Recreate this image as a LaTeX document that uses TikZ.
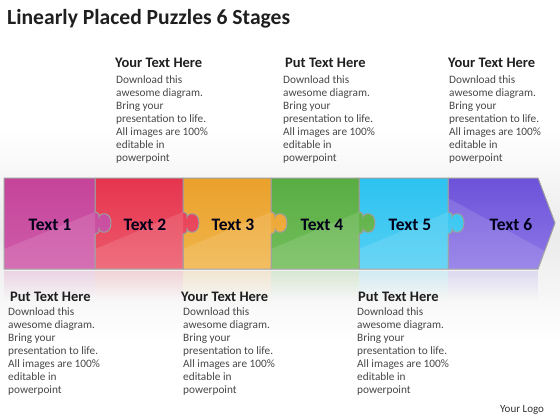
\documentclass[tikz,border=0pt]{standalone}
\usepackage{fontspec}
\setmainfont{Carlito}
\usetikzlibrary{fadings}
\definecolor{pzlAt}{HTML}{C4449A}
\definecolor{pzlAb}{HTML}{D05CAA}
\definecolor{pzlBt}{HTML}{E6344E}
\definecolor{pzlBb}{HTML}{EC5A6C}
\definecolor{pzlCt}{HTML}{EAA12C}
\definecolor{pzlCb}{HTML}{F1B54A}
\definecolor{pzlDt}{HTML}{58AD42}
\definecolor{pzlDb}{HTML}{74BE5C}
\definecolor{pzlEt}{HTML}{2CC2F0}
\definecolor{pzlEb}{HTML}{55D0F4}
\definecolor{pzlFt}{HTML}{6C52DA}
\definecolor{pzlFb}{HTML}{8E78E6}
\tikzfading[name=reflfade, top color=transparent!80, bottom color=transparent!100]
\newcommand\blurbtext{Download this\\awesome diagram.\\Bring your\\presentation to life.\\All images are 100\%\\editable in\\powerpoint}

\begin{document}
\begin{tikzpicture}[x=1pt,y=-1pt,
    pzl/.style={draw=black!38, line width=1pt, line join=round},
    gloss/.style={fill=white, fill opacity=0.12},
    pzltext/.style={inner sep=0pt, font=\fontsize{17.5}{20}\selectfont\bfseries, text=black!90!blue},
    blurbhead/.style={anchor=base west, inner sep=0pt, font=\fontsize{14.5}{17}\selectfont\bfseries, text=black!88},
    blurb/.style={anchor=north west, inner sep=0pt, align=left, font=\fontsize{11.3}{13.15}\selectfont, text=black!72}]
    \useasboundingbox (0,0) rectangle (560,420);
    % soft grey band behind the strip
    \fill[top color=white, bottom color=white, middle color=black!8] (0,130) rectangle (560,340);

    % last piece, the arrow
    \fill[pzlFb, path fading=reflfade] (448,271) rectangle (538,300);
    \draw[pzl, top color=pzlFt, bottom color=pzlFb] (448,178) -- (538,178) -- (555,223) -- (538,269) -- (448,269) -- cycle;
    \fill[gloss] (448,198) -- (545,251) -- (538,269) -- (448,269) -- cycle;

    % pieces 5 to 1, each tab lies over the next piece
    \foreach \l/\r/\ct/\cb in {359/448/pzlEt/pzlEb, 271/359/pzlDt/pzlDb, 183/271/pzlCt/pzlCb, 95/183/pzlBt/pzlBb, 4/95/pzlAt/pzlAb}{
        \fill[\cb, path fading=reflfade] (\l,271) rectangle (\r,300);
        \draw[pzl, top color=\ct, bottom color=\cb] (\l,178) -- (\r,178) -- (\r,212)
            .. controls (\r+3,212) and (\r+5,215) .. (\r+4,218)
            .. controls (\r+3,213) and (\r+16,210) .. (\r+16,223)
            .. controls (\r+16,236) and (\r+3,233) .. (\r+4,228)
            .. controls (\r+5,231) and (\r+3,234) .. (\r,234) -- (\r,269) -- (\l,269) -- cycle;
        \fill[gloss] (\l,249) -- (\r,212) -- (\r,269) -- (\l,269) -- cycle;
    }

    \node[pzltext] (t1) at (50,225)  {Text 1};
    \node[pzltext] (t2) at (145,225) {Text 2};
    \node[pzltext] (t3) at (233,225) {Text 3};
    \node[pzltext] (t4) at (322,225) {Text 4};
    \node[pzltext] (t5) at (410,225) {Text 5};
    \node[pzltext] (t6) at (511,225) {Text 6};

    \node[anchor=base west, inner sep=0pt, font=\fontsize{21.6}{25}\selectfont\bfseries, text=black!88] (title) at (7,25) {Linearly Placed Puzzles 6 Stages};

    % blurbs above
    \node[blurbhead] (h2) at (115,67.5) {Your Text Here};
    \node[blurb]     (b2) at (116,75)   {\blurbtext};
    \node[blurbhead] (h4) at (285,67.5) {Put Text Here};
    \node[blurb]     (b4) at (283,75)   {\blurbtext};
    \node[blurbhead] (h6) at (448,67.5) {Your Text Here};
    \node[blurb]     (b6) at (449,75)   {\blurbtext};
    % blurbs below
    \node[blurbhead] (h1) at (10,301.5)  {Put Text Here};
    \node[blurb]     (b1) at (8,307)     {\blurbtext};
    \node[blurbhead] (h3) at (181,301.5) {Your Text Here};
    \node[blurb]     (b3) at (183,307)   {\blurbtext};
    \node[blurbhead] (h5) at (358,301.5) {Put Text Here};
    \node[blurb]     (b5) at (357,307)   {\blurbtext};

    \node[anchor=base west, inner sep=0pt, font=\fontsize{11}{13}\selectfont, text=black!80] (logo) at (500,412) {Your Logo};
\end{tikzpicture}
\end{document}
